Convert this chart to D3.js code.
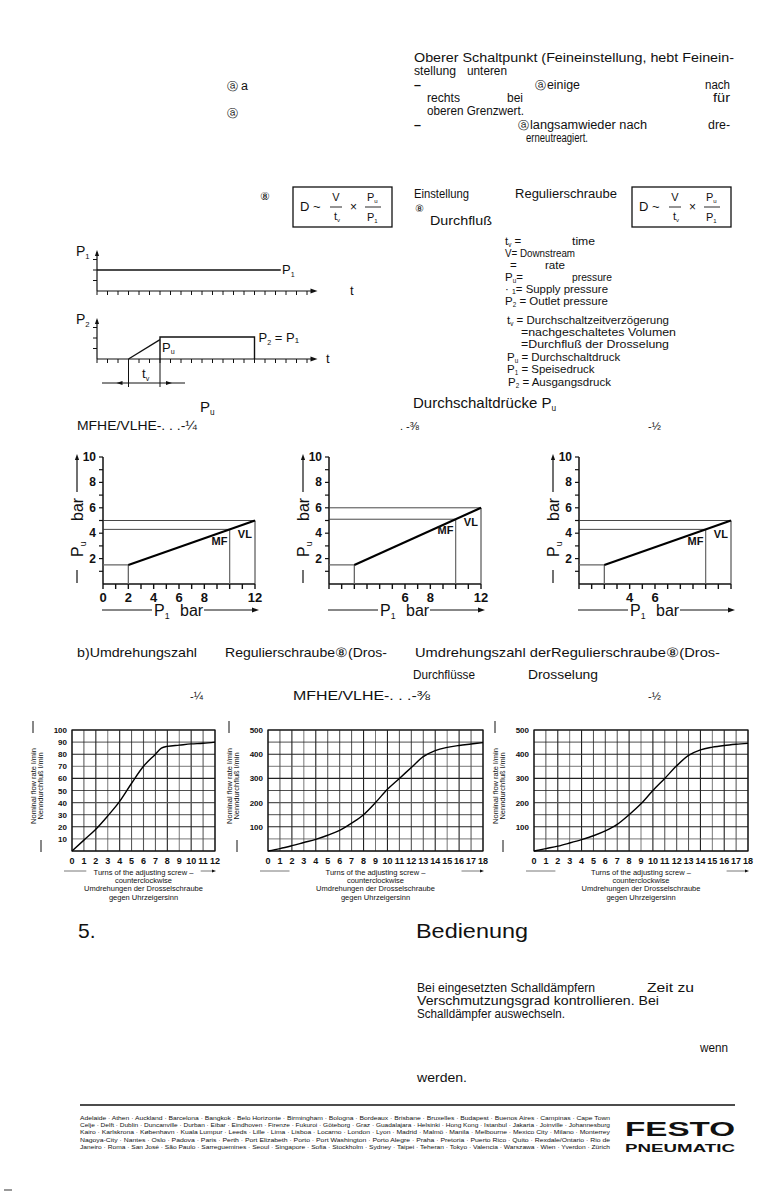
<!DOCTYPE html>
<html>
<head>
<meta charset="utf-8">
<script src="https://cdn.jsdelivr.net/npm/d3@7/dist/d3.min.js"></script>
<style>
html, body { margin: 0; padding: 0; background: #fff; }
svg { display: block; }
text { font-family: "Liberation Sans Narrow", "Arial Narrow", "Liberation Sans", Arial, sans-serif; fill: #111; }
</style>
</head>
<body>
<svg id="page" width="777" height="1193"></svg>
<script>
// ---------- data ----------
// switching pressure Pu over supply pressure P1 (bar)
var puSizes   = ['1/4', '3/8', '1/2'];
var puLow     = [1.5, 1.5, 1.5];   // Pu at P1 = 2 bar
var puMF      = [4.3, 5.1, 4.3];   // Pu at P1 = 10 bar (MF)
var puVL      = [5.0, 6.0, 5.0];   // Pu at P1 = 12 bar (VL)
var p1Start = 2, p1MF = 10, p1Max = 12;
var puXLabels = [[0, 2, 4, 6, 8, 12], [6, 8, 12], [4, 6]];
var puYLabels = [2, 4, 6, 8, 10];

// nominal flow (l/min) over turns of the adjusting screw
var turnsQuarter = [0, 1, 2, 3, 4, 5, 6, 7, 7.5, 8, 9, 10, 11, 12];
var flowQuarter  = [0, 9, 18, 29, 41, 56, 70, 80, 85, 86.5, 87.5, 88.5, 89, 90];
var turnsLarge   = [0, 1, 2, 3, 4, 5, 6, 7, 8, 9, 10, 11, 12, 13, 14, 15, 16, 17, 18];
var flowThreeEighth = [0, 10, 22, 35, 48, 65, 85, 115, 150, 200, 255, 300, 345, 390, 415, 428, 436, 442, 448];
var flowHalf        = [0, 10, 20, 33, 47, 63, 83, 110, 150, 195, 250, 300, 352, 395, 418, 429, 436, 441, 445];
var flowTicksQuarter = [10, 20, 30, 40, 50, 60, 70, 80, 90, 100];
var flowTicksLarge   = [100, 200, 300, 400, 500];

// timing sketch (time steps, pressure steps)
var p1Profile = [[0, 2], [17.5, 2]];
var p2Ramp    = [[3, 0], [6, 1.85]];
var p2Block   = [[6, 0], [6, 2.1], [15, 2.1], [15, 0]];

var cities = [
  'Adelaide · Athen · Auckland · Barcelona · Bangkok · Belo Horizonte · Birmingham · Bologna · Bordeaux · Brisbane · Bruxelles · Budapest · Buenos Aires · Campinas · Cape Town',
  'Celje · Delft · Dublin · Duncanville · Durban · Eibar · Eindhoven · Firenze · Fukuroi · Göteborg · Graz · Guadalajara · Helsinki · Hong Kong · Istanbul · Jakarta · Joinville · Johannesburg',
  'Kairo · Karlskrona · København · Kuala Lumpur · Leeds · Lille · Lima · Lisboa · Locarno · London · Lyon · Madrid · Malmö · Manila · Melbourne · Mexico City · Milano · Monterrey',
  'Nagoya-City · Nantes · Oslo · Padova · Paris · Perth · Port Elizabeth · Porto · Port Washington · Porto Alegre · Praha · Pretoria · Puerto Rico · Quito · Rexdale/Ontario · Rio de',
  'Janeiro · Roma · San José · São Paulo · Sarreguemines · Seoul · Singapore · Sofia · Stockholm · Sydney · Taipei · Teheran · Tokyo · Valencia · Warszawa · Wien · Yverdon · Zürich'
];

var svg = d3.select('#page');

// ---------- helpers ----------
function txt(g, x, y, s, size, o) {
  o = o || {};
  var t = g.append('text').attr('x', x).attr('y', y).attr('font-size', size).text(s);
  if (o.w) t.attr('textLength', o.w).attr('lengthAdjust', 'spacingAndGlyphs');
  if (o.anchor) t.attr('text-anchor', o.anchor);
  if (o.bold) t.attr('font-weight', 'bold');
  return t;
}
// letter with small subscript, optional rest of line
function subTxt(g, x, y, main, sub, size, o) {
  o = o || {};
  var t = g.append('text').attr('x', x).attr('y', y).attr('font-size', size);
  if (o.anchor) t.attr('text-anchor', o.anchor);
  if (o.bold) t.attr('font-weight', 'bold');
  t.append('tspan').text(main);
  t.append('tspan').attr('font-size', size * 0.55).attr('dy', size * 0.2).text(sub);
  if (o.rest) t.append('tspan').attr('dy', -size * 0.2).text(o.rest);
  return t;
}
function seg(g, x1, y1, x2, y2, w, c) {
  return g.append('line').attr('x1', x1).attr('y1', y1).attr('x2', x2).attr('y2', y2)
    .style('stroke', c || '#111').style('stroke-width', w || 1);
}
// filled arrow head, tip at (x,y), dir in degrees (0 = right, -90 = up)
function head(g, x, y, dir, len) {
  len = len || 6;
  g.append('path').attr('d', 'M0,0 L' + (-len) + ',' + (-len * 0.35) + ' L' + (-len) + ',' + (len * 0.35) + 'Z')
    .attr('transform', 'translate(' + x + ',' + y + ') rotate(' + dir + ')')
    .style('fill', '#111');
}

var hdr = svg.append('g');

// ---------- upper text block ----------
var B = 12.5;
txt(hdr, 414, 62, 'Oberer Schaltpunkt (Feineinstellung, hebt Feinein-', B, {w: 320});
txt(hdr, 414, 75, 'stellung', B, {w: 42});
txt(hdr, 467, 75, 'unteren', B, {w: 40});
txt(hdr, 414, 89, '–', B, {bold: true});
txt(hdr, 535, 89, 'ⓐ', 10.5);
txt(hdr, 547, 89, 'einige', B, {w: 33});
txt(hdr, 730, 89, 'nach', B, {anchor: 'end', w: 25});
txt(hdr, 427, 102, 'rechts', B, {w: 33});
txt(hdr, 507, 102, 'bei', B, {w: 16});
txt(hdr, 730, 102, 'für', B, {anchor: 'end', w: 17});
txt(hdr, 427, 115, 'oberen Grenzwert.', B, {w: 97});
txt(hdr, 414, 129, '–', B, {bold: true});
txt(hdr, 518, 129, 'ⓐ', 10.5);
txt(hdr, 530, 129, 'langsamwieder nach', B, {w: 117});
txt(hdr, 730, 129, 'dre-', B, {anchor: 'end', w: 22});
txt(hdr, 526, 142, 'erneutreagiert.', B, {w: 62});

txt(hdr, 227, 90, 'ⓐ', 10.5);
txt(hdr, 241, 90, 'a', B);
txt(hdr, 227, 117, 'ⓐ', 10.5);

// ---------- formula boxes ----------
function formulaBox(x0) {
  var g = svg.append('g');
  g.append('rect').attr('x', x0).attr('y', 187).attr('width', 99).attr('height', 40)
    .style('fill', 'none').style('stroke', '#111').style('stroke-width', 1.3);
  txt(g, x0 + 7, 211, 'D ~', 13);
  txt(g, x0 + 43, 201, 'V', 11, {anchor: 'middle'});
  seg(g, x0 + 37, 207, x0 + 49, 207, 0.9);
  subTxt(g, x0 + 41, 220, 't', 'v', 11);
  txt(g, x0 + 57, 211, '×', 12);
  subTxt(g, x0 + 74, 201, 'P', 'u', 11);
  seg(g, x0 + 72, 207, x0 + 88, 207, 0.9);
  subTxt(g, x0 + 74, 221, 'P', '1', 11);
}
txt(hdr, 260, 200, '⑧', 11);
formulaBox(293);
txt(hdr, 414, 198, 'Einstellung', B, {w: 55});
txt(hdr, 515, 198, 'Regulierschraube', B, {w: 102});
txt(hdr, 415, 212, '⑧', 10);
txt(hdr, 430, 225, 'Durchfluß', B, {w: 62});
formulaBox(632);

// ---------- legend ----------
var L = 11.5;
subTxt(hdr, 505, 245, 't', 'v', L, {rest: ' ='});
txt(hdr, 572, 245, 'time', L, {w: 23});
txt(hdr, 505, 257, 'V= Downstream', L, {w: 70});
txt(hdr, 510, 269, '=', L);
txt(hdr, 545, 269, 'rate', L, {w: 20});
subTxt(hdr, 505, 281, 'P', 'u', L, {rest: '='});
txt(hdr, 572, 281, 'pressure', L, {w: 40});
txt(hdr, 505, 293, '· ₁= Supply pressure', L, {w: 103});
subTxt(hdr, 505, 305, 'P', '2', L, {rest: ' = Outlet pressure'});
subTxt(hdr, 507, 324, 't', 'v', L, {rest: '  = Durchschaltzeitverzögerung'});
txt(hdr, 521, 336, '=nachgeschaltetes Volumen', L, {w: 155});
txt(hdr, 521, 348, '=Durchfluß der Drosselung', L, {w: 148});
subTxt(hdr, 507, 361, 'P', 'u', L, {rest: ' = Durchschaltdruck'});
subTxt(hdr, 507, 373, 'P', '1', L, {rest: ' = Speisedruck'});
subTxt(hdr, 508, 386, 'P', '2', L, {rest: ' = Ausgangsdruck'});
subTxt(hdr, 413, 408, 'Durchschaltdrücke P', 'u', 15);
txt(hdr, 400, 430, '. -⅜', 11);
txt(hdr, 648, 430, '-½', 11);

// ---------- timing sketches ----------
var tx = d3.scaleLinear().domain([0, 21]).range([97, 317.5]);
var ty1 = d3.scaleLinear().domain([0, 4]).range([291, 249]);
var ty2 = d3.scaleLinear().domain([0, 4]).range([359, 317]);
var lineT = function (ys) { return d3.line().x(function (d) { return tx(d[0]); }).y(function (d) { return ys(d[1]); }); };

[ty1, ty2].forEach(function (ys, k) {
  var g = svg.append('g');
  seg(g, tx(0), ys(0), tx(0), ys(3.7), 1.2);
  head(g, tx(0), ys(3.9), -90, 6);
  seg(g, tx(0), ys(0), tx(20.7), ys(0), 1.2);
  head(g, tx(21), ys(0), 0, 7);
  d3.range(0, 21).forEach(function (t) { seg(g, tx(t), ys(0), tx(t), ys(0) + 4, 1); });
  [1, 2, 3].forEach(function (v) { seg(g, tx(0) - 4, ys(v), tx(0), ys(v), 1); });
  subTxt(g, 76, ys(3.3), 'P', k === 0 ? '1' : '2', 14);
  txt(g, k === 0 ? 350 : 326, ys(0) + 4, 't', 13);
});
var gT = svg.append('g');
gT.append('path').attr('d', lineT(ty1)(p1Profile)).style('fill', 'none').style('stroke', '#111').style('stroke-width', 1.3);
subTxt(gT, 282, ty1(1.6), 'P', '1', 13);
gT.append('path').attr('d', lineT(ty2)(p2Ramp)).style('fill', 'none').style('stroke', '#111').style('stroke-width', 1.3);
gT.append('path').attr('d', lineT(ty2)(p2Block)).style('fill', 'none').style('stroke', '#111').style('stroke-width', 1.4);
subTxt(gT, tx(6) + 2, ty2(0.7), 'P', 'u', 13);
subTxt(gT, tx(15) + 4, ty2(1.6), 'P', '2', 13, {rest: ' =  P₁'});
// tv dimension
var dimY = ty2(0) + 24;
var tA = tx(p2Ramp[0][0]), tB = tx(p2Ramp[1][0]);
seg(gT, tA, ty2(0), tA, dimY + 4, 1);
seg(gT, tB, ty2(0), tB, dimY + 4, 1);
seg(gT, 102, dimY, 185, dimY, 1);
head(gT, tA - 12, dimY, 180, 6);
head(gT, tB + 12, dimY, 0, 6);
subTxt(gT, 142, dimY - 5, 't', 'v', 13);

// ---------- Pu charts ----------
var puLeft = [103, 329, 579];
subTxt(svg, 200, 412, 'P', 'u', 15);
txt(svg, 77, 430, 'MFHE/VLHE-. . .-¼', 12, {w: 120});

puSizes.forEach(function (name, i) {
  var g = svg.append('g');
  var x = d3.scaleLinear().domain([0, p1Max]).range([puLeft[i], puLeft[i] + 152]);
  var y = d3.scaleLinear().domain([0, 10]).range([584, 457]);
  var line = d3.line().x(function (d) { return x(d[0]); }).y(function (d) { return y(d[1]); });

  // axes
  seg(g, x(0), y(0), x(0), y(10), 1.5);
  seg(g, x(0), y(0), x(p1Max), y(0), 1.6);
  d3.range(0, p1Max + 1).forEach(function (v) { seg(g, x(v), y(0), x(v), y(0) + 5, 1.4); });
  d3.range(1, 11).forEach(function (v) { seg(g, x(0) - 4, y(v), x(0), y(v), 1.2); });
  puYLabels.forEach(function (v) { txt(g, x(0) - 7, y(v) + 4, String(v), 12, {anchor: 'end', bold: true}); });
  puXLabels[i].forEach(function (v) { txt(g, x(v), 602, String(v), 13, {anchor: 'middle', bold: true}); });

  // guide lines
  seg(g, x(0), y(puVL[i]), x(p1Max), y(puVL[i]), 0.9, '#333');
  seg(g, x(0), y(puMF[i]), x(p1MF), y(puMF[i]), 0.9, '#333');
  seg(g, x(p1MF), y(0), x(p1MF), y(puMF[i]), 1.2, '#666');
  seg(g, x(p1Max), y(0), x(p1Max), y(puVL[i]), 1, '#333');
  g.append('path').attr('d', line([[0, puLow[i]], [p1Start, puLow[i]], [p1Start, 0]]))
    .style('fill', 'none').style('stroke', '#666').style('stroke-width', 1.3);
  // characteristic
  g.append('path').attr('d', line([[p1Start, puLow[i]], [p1Max, puVL[i]]]))
    .style('fill', 'none').style('stroke', '#000').style('stroke-width', 2.2);
  txt(g, x(p1MF - 0.8), y(puMF[i] - 1.2), 'MF', 11, {anchor: 'middle', bold: true});
  txt(g, x(p1Max - 0.8), y((puMF[i] + puVL[i]) / 2 - 1.0), 'VL', 11, {anchor: 'middle', bold: true});

  // rotated y title
  var yt = g.append('g').attr('transform', 'translate(' + (x(0) - 26) + ',583) rotate(-90)');
  seg(yt, 0, 0, 13, 0, 1.2);
  subTxt(yt, 26, 6, 'P', 'u', 16);
  txt(yt, 62, 6, 'bar', 16);
  seg(yt, 91, 0, 124, 0, 1.2);
  head(yt, 129, 0, 0, 6);

  // x title
  seg(g, x(0) - 1, 610, x(0) + 49, 610, 1);
  subTxt(g, x(0) + 51, 616, 'P', '1', 16);
  txt(g, x(0) + 77, 616, 'bar', 16);
  seg(g, x(0) + 101, 610, x(p1Max) - 2, 610, 1);
  head(g, x(p1Max) + 4, 610, 0, 7);
});

// ---------- middle texts ----------
txt(svg, 77, 657, 'b)Umdrehungszahl', 13, {w: 120});
txt(svg, 225, 657, 'Regulierschraube⑧(Dros-', 13, {w: 162});
txt(svg, 415, 657, 'Umdrehungszahl derRegulierschraube⑧(Dros-', 13, {w: 305});
txt(svg, 413, 679, 'Durchflüsse', 13, {w: 62});
txt(svg, 528, 679, 'Drosselung', 13, {w: 70});
txt(svg, 190, 700, '-¼', 11);
txt(svg, 293, 700, 'MFHE/VLHE-. . .-⅜', 12, {w: 137});
txt(svg, 648, 700, '-½', 11);

// ---------- flow charts ----------
var flowCharts = [
  {left: 72, right: 215, turns: turnsQuarter, flow: flowQuarter, max: 100, ticks: flowTicksQuarter, step: 10, xmax: 12},
  {left: 268, right: 483, turns: turnsLarge, flow: flowThreeEighth, max: 500, ticks: flowTicksLarge, step: 50, xmax: 18},
  {left: 534, right: 748, turns: turnsLarge, flow: flowHalf, max: 500, ticks: flowTicksLarge, step: 50, xmax: 18}
];
flowCharts.forEach(function (c) {
  var g = svg.append('g');
  var x = d3.scaleLinear().domain([0, c.xmax]).range([c.left, c.right]);
  var y = d3.scaleLinear().domain([0, c.max]).range([851, 730]);
  d3.range(0, c.xmax + 1).forEach(function (v) {
    seg(g, x(v), y(0), x(v), y(c.max), v % 2 ? 0.8 : 1.1, v % 3 === 0 ? '#555' : '#222');
  });
  d3.range(0, c.max + 1, c.step).forEach(function (v, k) {
    seg(g, x(0), y(v), x(c.xmax), y(v), k % 2 ? 0.8 : 1.1, k % 3 === 1 ? '#555' : '#222');
  });
  g.append('rect').attr('x', x(0)).attr('y', y(c.max)).attr('width', x(c.xmax) - x(0)).attr('height', y(0) - y(c.max))
    .style('fill', 'none').style('stroke', '#111').style('stroke-width', 1.2);
  var pts = c.turns.map(function (t, k) { return [t, c.flow[k]]; });
  g.append('path').attr('d', d3.line().curve(d3.curveMonotoneX).x(function (d) { return x(d[0]); }).y(function (d) { return y(d[1]); })(pts))
    .style('fill', 'none').style('stroke', '#000').style('stroke-width', 1.4);
  c.ticks.forEach(function (v) { txt(g, x(0) - 5, y(v) + 3, String(v), 8, {anchor: 'end', bold: true}); });
  d3.range(0, c.xmax + 1).forEach(function (v) { txt(g, x(v), 864, String(v), 9, {anchor: 'middle', bold: true}); });

  // rotated titles
  var xc = c.left - 36;
  var yt = g.append('g').attr('transform', 'translate(' + xc + ',786) rotate(-90)');
  txt(yt, 0, 0, 'Nominal flow rate l/min', 7.5, {anchor: 'middle'});
  txt(yt, 0, 7, 'Nenndurchfluß l/min', 7.5, {anchor: 'middle'});
  seg(g, xc - 3, 721, xc - 3, 733, 1);
  seg(g, xc + 5, 840, xc + 5, 852, 1);

  // captions
  var mid = (c.left + c.right) / 2;
  txt(g, mid, 875, 'Turns of the adjusting screw –', 7.5, {anchor: 'middle'});
  txt(g, mid, 883, 'counterclockwise', 7.5, {anchor: 'middle'});
  txt(g, mid, 891, 'Umdrehungen der Drosselschraube', 7.5, {anchor: 'middle'});
  txt(g, mid, 900, 'gegen Uhrzeigersinn', 7.5, {anchor: 'middle'});
  var half = (c.right - c.left) / 2;
  seg(g, c.left - 8, 871, mid - half * 0.8, 871, 0.8, '#555');
  seg(g, mid + half * 0.8, 871, c.right - 3, 871, 0.8, '#555');
  head(g, c.right + 1, 871, 0, 4);
});

// ---------- lower text ----------
txt(svg, 78, 938, '5.', 21);
txt(svg, 416, 938, 'Bedienung', 21, {w: 112});
txt(svg, 417, 992, 'Bei eingesetzten Schalldämpfern', B, {w: 178});
txt(svg, 647, 992, 'Zeit zu', B, {w: 47});
txt(svg, 417, 1005, 'Verschmutzungsgrad kontrollieren. Bei', B, {w: 242});
txt(svg, 417, 1018, 'Schalldämpfer auswechseln.', B, {w: 148});
txt(svg, 700, 1052, 'wenn', B, {w: 28});
txt(svg, 417, 1082, 'werden.', B, {w: 50});

// ---------- footer ----------
seg(svg, 80, 1105, 735, 1105, 1.3);
cities.forEach(function (s, k) {
  txt(svg, 80, 1120 + k * 7.2, s, 6, {w: 530});
});
txt(svg, 625, 1136, 'FESTO', 21, {bold: true, w: 110}).style('font-family', '"Liberation Sans", Arial, sans-serif').style('font-weight', 900);
txt(svg, 625, 1152, 'PNEUMATIC', 11.5, {bold: true, w: 110}).style('font-family', '"Liberation Sans", Arial, sans-serif');
seg(svg, 4, 1190, 12, 1190, 2, '#999');
</script>
</body>
</html>
